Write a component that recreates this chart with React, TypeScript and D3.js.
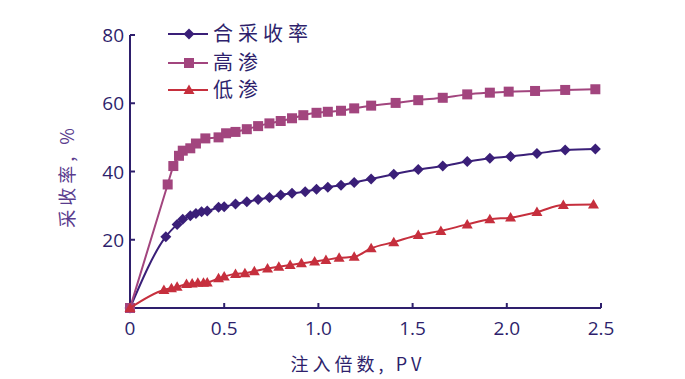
import React from "react";
import * as d3 from "d3";

const compX = [0, 0.19, 0.25, 0.28, 0.32, 0.35, 0.38, 0.41, 0.47, 0.5, 0.56, 0.62, 0.68, 0.74, 0.8, 0.86, 0.93, 0.99, 1.05, 1.12, 1.19, 1.28, 1.4, 1.53, 1.66, 1.79, 1.91, 2.02, 2.16, 2.31, 2.47];
const compY = [0, 20.9, 24.5, 26, 27, 27.7, 28.2, 28.4, 29.5, 29.7, 30.5, 31.1, 31.8, 32.4, 33.1, 33.6, 34.1, 34.8, 35.4, 36, 36.8, 37.8, 39.2, 40.6, 41.6, 42.9, 43.9, 44.4, 45.3, 46.3, 46.6];

const highX = [0, 0.2, 0.23, 0.26, 0.28, 0.32, 0.35, 0.4, 0.47, 0.51, 0.56, 0.62, 0.68, 0.74, 0.8, 0.86, 0.92, 0.99, 1.05, 1.12, 1.19, 1.28, 1.41, 1.53, 1.66, 1.79, 1.91, 2.01, 2.15, 2.31, 2.47];
const highY = [0, 36.2, 41.6, 44.6, 46.1, 46.8, 48.2, 49.7, 50.0, 51.2, 51.6, 52.4, 53.3, 54.1, 54.8, 55.6, 56.5, 57.2, 57.5, 57.8, 58.5, 59.3, 60.1, 60.9, 61.6, 62.6, 63.1, 63.4, 63.6, 63.9, 64.1];

const lowX = [0, 0.18, 0.22, 0.25, 0.3, 0.33, 0.36, 0.39, 0.41, 0.47, 0.5, 0.56, 0.61, 0.66, 0.73, 0.79, 0.85, 0.91, 0.98, 1.04, 1.11, 1.19, 1.28, 1.4, 1.53, 1.65, 1.79, 1.91, 2.02, 2.16, 2.3, 2.46];
const lowY = [0, 5.3, 5.8, 6.2, 7.0, 7.2, 7.4, 7.4, 7.5, 8.7, 9.2, 10.0, 10.2, 10.8, 11.6, 12.1, 12.6, 13.1, 13.6, 14.1, 14.7, 15.0, 17.5, 19.3, 21.4, 22.6, 24.5, 26.0, 26.5, 28.1, 30.2, 30.3];

const seriesNames = ["合采收率", "高渗", "低渗"];
const xTicks = [0, 0.5, 1.0, 1.5, 2.0, 2.5];
const xTickLabels = ["0", "0.5", "1.0", "1.5", "2.0", "2.5"];
const yTicks = [20, 40, 60, 80];
const xTitle = "注入倍数, PV";
const yTitle = "采收率, %";

const AXIS = "#2e1f6c";
const COLORS = ["#3a1f78", "#a2457e", "#c62f3d"];
const YTITLE = "#5a3c8e";
const CJK = "'Noto Sans CJK SC', sans-serif";
const NUM = "'Open Sans', sans-serif";

function Marker({ kind, x, y, color }: { kind: number; x: number; y: number; color: string }) {
  if (kind === 0) {
    const r = 5.5;
    return <path d={`M${x},${y - r}L${x + r},${y}L${x},${y + r}L${x - r},${y}Z`} fill={color} />;
  }
  if (kind === 1) {
    const s = 10;
    return <rect x={x - s / 2} y={y - s / 2} width={s} height={s} fill={color} />;
  }
  const w = 5.5;
  return <path d={`M${x},${y - 5.5}L${x + w},${y + 4}L${x - w},${y + 4}Z`} fill={color} />;
}

export default function App() {
  const W = 685, H = 379;
  const x = d3.scaleLinear().domain([0, 2.5]).range([130, 601]);
  const y = d3.scaleLinear().domain([0, 80]).range([308, 35]);
  const series = [
    { xs: compX, ys: compY },
    { xs: highX, ys: highY },
    { xs: lowX, ys: lowY },
  ];
  const line = d3.line<[number, number]>()
    .x(d => x(d[0]))
    .y(d => y(d[1]))
    .curve(d3.curveMonotoneX);

  const legendY = [34, 63, 90];

  return (
    <svg width={W} height={H} style={{ position: "absolute", left: 0, top: 0, background: "#fff" }}>
      {/* axes */}
      <line x1={x(0)} x2={x(2.5)} y1={y(0)} y2={y(0)} stroke={AXIS} strokeWidth={2} />
      <line x1={x(0)} x2={x(0)} y1={y(0)} y2={y(80)} stroke={AXIS} strokeWidth={2} />
      {xTicks.map((t, i) => (
        <g key={"xt" + i}>
          {i > 0 && <line x1={x(t)} x2={x(t)} y1={y(0)} y2={y(0) - 5} stroke={AXIS} strokeWidth={2} />}
          <text x={x(t)} y={335} textAnchor="middle" fontFamily={NUM} fontSize={19} fill={AXIS}>{xTickLabels[i]}</text>
        </g>
      ))}
      {yTicks.map((t, i) => (
        <g key={"yt" + i}>
          <line x1={x(0)} x2={x(0) + 5} y1={y(t)} y2={y(t)} stroke={AXIS} strokeWidth={2} />
          <text x={124} y={y(t) + 7} textAnchor="end" fontFamily={NUM} fontSize={19} fill={AXIS}>{t}</text>
        </g>
      ))}
      <text x={358} y={371} textAnchor="middle" fontFamily={CJK} fontSize={18} letterSpacing={4} fill={AXIS}>{xTitle}</text>
      <text transform={`translate(74,176) rotate(-90)`} textAnchor="middle" fontFamily={CJK} fontSize={18} letterSpacing={4} fill={YTITLE}>{yTitle}</text>

      {/* series */}
      {series.map((s, k) => {
        const pts = s.xs.map((v, i) => [v, s.ys[i]] as [number, number]);
        return (
          <g key={"s" + k}>
            <path d={line(pts) || ""} fill="none" stroke={COLORS[k]} strokeWidth={2} />
            {pts.map((p, i) => (
              <Marker key={i} kind={k} x={x(p[0])} y={y(p[1])} color={COLORS[k]} />
            ))}
          </g>
        );
      })}

      {/* legend */}
      {seriesNames.map((n, k) => (
        <g key={"lg" + k}>
          <line x1={168} x2={208} y1={legendY[k]} y2={legendY[k]} stroke={COLORS[k]} strokeWidth={2} />
          <Marker kind={k} x={189} y={legendY[k]} color={COLORS[k]} />
          <text x={213} y={legendY[k] + 7} fontFamily={CJK} fontSize={20} letterSpacing={5} fill={AXIS}>{n}</text>
        </g>
      ))}
    </svg>
  );
}
